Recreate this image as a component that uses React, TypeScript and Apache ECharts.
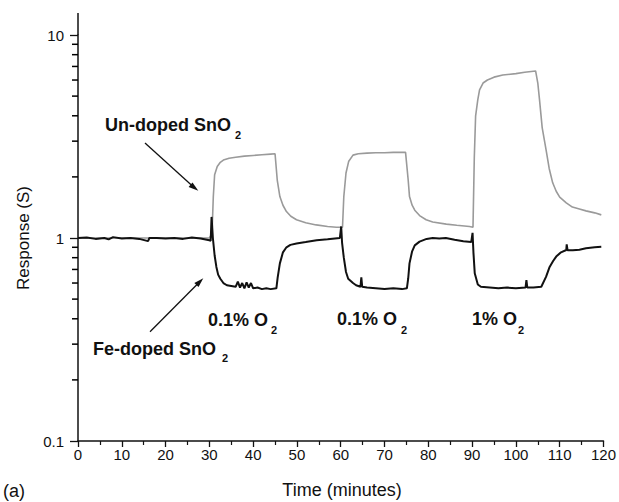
import React, { useEffect, useRef } from "react";
import * as echarts from "echarts";

// Un-doped SnO2 (grey) : [time (min), response]
const undopedTime = [0, 5, 10, 15, 20, 25, 30, 30.6, 30.9, 31.2, 31.8, 32.5, 33.2, 34.5, 36, 38, 40, 42, 44, 45, 45.5, 46.1, 46.8, 47.6, 48.6, 49.9, 52, 54.4, 57, 59, 60.4, 60.7, 61.2, 61.8, 62.8, 64, 66, 68, 70, 72, 74.8, 75.4, 75.7, 76.3, 76.9, 78, 79.5, 81, 84.1, 86.5, 89.4, 90.2, 90.5, 90.8, 91.3, 91.7, 92.5, 93.5, 95, 97, 100, 102, 104.5, 105, 105.4, 106, 106.9, 107.6, 108.4, 109.2, 110, 111.5, 112.9, 114.5, 116, 118, 119.5];
const undopedValue = [1.0, 1.0, 1.0, 1.0, 1.0, 1.0, 1.0, 1.05, 1.6, 2.05, 2.25, 2.36, 2.42, 2.47, 2.5, 2.53, 2.55, 2.57, 2.59, 2.6, 1.93, 1.6, 1.45, 1.35, 1.28, 1.23, 1.19, 1.16, 1.14, 1.13, 1.13, 1.6, 2.09, 2.38, 2.56, 2.6, 2.62, 2.63, 2.63, 2.64, 2.64, 1.93, 1.6, 1.45, 1.37, 1.29, 1.23, 1.2, 1.17, 1.155, 1.14, 1.13, 2.5, 4.0, 4.8, 5.36, 5.8, 6.0, 6.2, 6.35, 6.45, 6.55, 6.65, 5.8, 4.78, 3.5, 2.71, 2.2, 1.87, 1.7, 1.59, 1.49, 1.42, 1.39, 1.36, 1.33, 1.3];

// Fe-doped SnO2 (black)
const fedopedTime = [0, 2, 4, 6, 7, 8, 10, 12, 14, 16, 16.3, 18, 20, 22, 24, 26, 28, 30, 30.3, 30.5, 30.8, 31.2, 31.6, 32, 32.5, 33.2, 34, 35, 36, 36.5, 37, 37.5, 38, 38.5, 39, 39.5, 40, 41, 42, 43, 44, 45.3, 45.6, 46.1, 46.8, 47.6, 48.5, 49.9, 52, 54.5, 57, 59.8, 60.1, 60.3, 60.7, 61.2, 61.7, 62.8, 63.5, 64.5, 64.7, 64.9, 66, 68, 70, 72, 74, 75.1, 75.4, 75.7, 76.3, 76.9, 78, 79.6, 81, 82.5, 84, 86, 88, 89.8, 90.1, 90.3, 90.6, 91.3, 92, 94, 96, 98, 100, 102.2, 102.4, 102.6, 104, 105.8, 106.9, 107.7, 108.5, 109.2, 110.3, 111.5, 111.6, 111.8, 113, 114.5, 116, 118, 119.5];
const fedopedValue = [1.0, 1.005, 0.99, 1.0, 0.985, 1.01, 0.995, 1.0, 0.99, 0.965, 1.0, 1.0, 0.995, 1.0, 0.99, 1.005, 0.995, 0.975, 0.97, 1.27, 1.0, 0.82, 0.72, 0.66, 0.63, 0.6, 0.585, 0.58, 0.575, 0.61, 0.57, 0.6, 0.565, 0.605, 0.57, 0.6, 0.565, 0.57, 0.56, 0.565, 0.56, 0.565, 0.64, 0.75, 0.85, 0.9, 0.925, 0.94, 0.955, 0.975, 0.985, 1.0, 1.14, 0.95, 0.8, 0.68, 0.63, 0.6, 0.585, 0.575, 0.64, 0.575, 0.57, 0.565, 0.56, 0.565, 0.56, 0.565, 0.63, 0.75, 0.86, 0.92, 0.96, 0.99, 1.0, 0.995, 1.0, 0.98, 0.965, 0.955, 1.06, 0.85, 0.67, 0.59, 0.575, 0.57, 0.565, 0.57, 0.565, 0.57, 0.62, 0.57, 0.57, 0.575, 0.645, 0.72, 0.77, 0.81, 0.85, 0.873, 0.93, 0.87, 0.87, 0.875, 0.89, 0.9, 0.905];

// minor log ticks on the response axis
const yMinorTicks = [0.2, 0.3, 0.4, 0.5, 0.6, 0.7, 0.8, 0.9, 2, 3, 4, 5, 6, 7, 8, 9];

const FONT = "'Liberation Sans', Arial, Helvetica, sans-serif";

export default function App() {
  const ref = useRef<HTMLDivElement>(null);
  useEffect(() => {
    if (!ref.current) return;
    const chart = echarts.init(ref.current, null, { renderer: "svg" });
    const undoped = undopedTime.map((t, i) => [t, undopedValue[i]]);
    const fedoped = fedopedTime.map((t, i) => [t, fedopedValue[i]]);
    const txt = (x: number, y: number, text: string, size: number, bold = true, extra: any = {}) => ({
      type: "text",
      x,
      y,
      silent: true,
      z: 100,
      style: {
        text,
        font: `${bold ? "bold " : ""}${size}px ${FONT}`,
        fill: "#111",
        textVerticalAlign: "middle",
        ...extra,
      },
    });
    chart.setOption({
      animation: false,
      backgroundColor: "#fff",
      grid: { left: 78, right: 15, top: 35, bottom: 61 },
      xAxis: {
        type: "value",
        min: 0,
        max: 120,
        interval: 10,
        axisLine: { lineStyle: { color: "#111", width: 1.5 } },
        axisTick: { show: true, length: 6, inside: false, lineStyle: { color: "#111", width: 1.3 } },
        minorTick: { show: true, splitNumber: 2, length: 4, lineStyle: { color: "#111", width: 1.2 } },
        splitLine: { show: false },
        axisLabel: { fontSize: 15, fontFamily: FONT, color: "#111", margin: 6 },
      },
      yAxis: {
        type: "log",
        logBase: 10,
        min: 0.1,
        max: 10,
        axisLine: { show: true, lineStyle: { color: "#111", width: 1.5 } },
        axisTick: { show: true, length: 8, inside: false, lineStyle: { color: "#111", width: 1.3 } },
        splitLine: { show: false },
        axisLabel: { fontSize: 15, fontFamily: FONT, color: "#111", margin: 14 },
      },
      series: [
        {
          name: "Un-doped SnO2",
          type: "line",
          data: undoped,
          showSymbol: false,
          symbol: "none",
          lineStyle: { color: "#9a9a9a", width: 1.6 },
          z: 2,
        },
        {
          name: "Fe-doped SnO2",
          type: "line",
          data: fedoped,
          showSymbol: false,
          symbol: "none",
          lineStyle: { color: "#111", width: 2 },
          z: 3,
        },
      ],
    });

    const minorTickLines = yMinorTicks.map((v) => {
      const p = chart.convertToPixel({ xAxisIndex: 0, yAxisIndex: 0 }, [0, v]) as number[];
      return {
        type: "line",
        silent: true,
        z: 100,
        shape: { x1: p[0] - 6, y1: p[1], x2: p[0], y2: p[1] },
        style: { stroke: "#000", lineWidth: 1.5 },
      };
    });

    chart.setOption({
      graphic: [
        { type: "line", silent: true, z: 100, shape: { x1: 78, y1: 13, x2: 78, y2: 35 }, style: { stroke: "#111", lineWidth: 1.5 } },
        ...minorTickLines,
        txt(105, 125, "Un-doped SnO", 18),
        txt(235, 135, "2", 11),
        txt(93, 349, "Fe-doped SnO", 18),
        txt(222, 358, "2", 11),
        txt(208, 320, "0.1% O", 18),
        txt(271, 330, "2", 11),
        txt(337, 319, "0.1% O", 18),
        txt(401, 330, "2", 11),
        txt(472, 319, "1% O", 18),
        txt(518, 330, "2", 11),
        txt(342, 490, "Time (minutes)", 18, false, { textAlign: "center" }),
        txt(3, 491, "(a)", 18, false),
        {
          type: "text",
          x: 23,
          y: 238,
          rotation: Math.PI / 2,
          silent: true,
          z: 100,
          style: {
            text: "Response (S)",
            font: `17px ${FONT}`,
            fill: "#111",
            textAlign: "center",
            textVerticalAlign: "middle",
          },
        },
        { type: "line", silent: true, z: 100, shape: { x1: 145, y1: 143, x2: 193, y2: 186.5 }, style: { stroke: "#111", lineWidth: 1.3 } },
        { type: "polygon", silent: true, z: 100, shape: { points: [[198.3, 190.7], [192.5, 182.6], [188.6, 186.9]] }, style: { fill: "#111" } },
        { type: "line", silent: true, z: 100, shape: { x1: 150, y1: 331.7, x2: 198.5, y2: 283 }, style: { stroke: "#111", lineWidth: 1.3 } },
        { type: "polygon", silent: true, z: 100, shape: { points: [[203.3, 278.3], [198.5, 287.1], [194.3, 282.9]] }, style: { fill: "#111" } },
      ],
    });
    return () => chart.dispose();
  }, []);
  return <div ref={ref} style={{ width: 619, height: 502, position: "absolute", left: 0, top: 0 }} />;
}
